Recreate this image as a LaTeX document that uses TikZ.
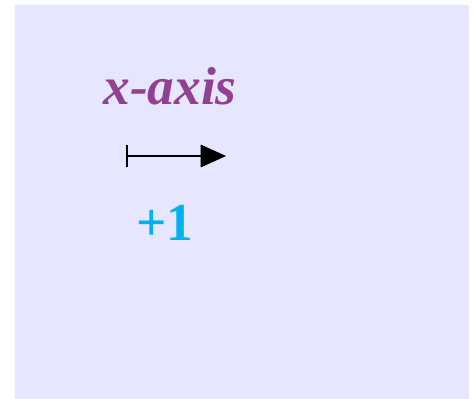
\documentclass[tikz,border=0pt]{standalone}
\usepackage{fontspec}
\setmainfont{Liberation Serif}
\usetikzlibrary{arrows.meta}
\definecolor{bgpurple}{RGB}{230,230,255}
\definecolor{axispurple}{RGB}{146,65,146}
\definecolor{oneblue}{RGB}{0,178,240}
\begin{document}
\begin{tikzpicture}[x=0.75pt,y=-0.75pt,
  lbl/.style={inner sep=0pt,anchor=base,font=\fontsize{40pt}{48pt}\selectfont\bfseries}]
\useasboundingbox (0,0) rectangle (474,399);
\fill[bgpurple] (15,5) rectangle (468.5,399);
\node[lbl,text=axispurple,font=\fontsize{40pt}{48pt}\selectfont\bfseries\itshape] (xaxis) at (170,105) {x-axis};
\node[lbl,text=oneblue] (one) at (165,240) {+1};
\coordinate (s) at (125.7,156);
\coordinate (e) at (226,156);
\draw[line width=0.8pt,{Bar[width=17pt,line width=1.4pt]}-{Triangle[length=19pt,width=17pt]}] (s) -- (e);
\end{tikzpicture}
\end{document}
